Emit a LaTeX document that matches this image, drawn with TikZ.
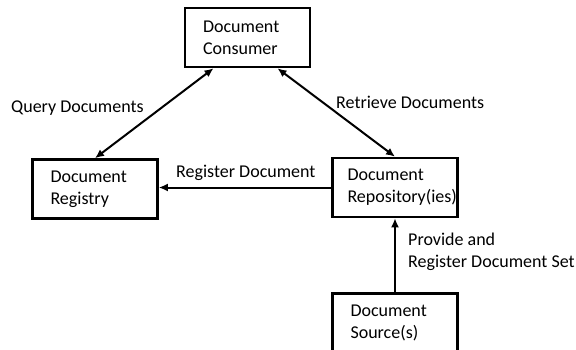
\documentclass[tikz,border=0pt]{standalone}
\usepackage{fontspec}
\setmainfont{Carlito}
\usetikzlibrary{arrows.meta,calc}
\begin{document}
\begin{tikzpicture}[x=1pt,y=-1pt,
  box/.style={draw, line width=2.6pt, minimum width=125pt, minimum height=59pt,
    inner xsep=18pt, text width=89pt, align=left, font=\fontsize{18}{22}\selectfont},
  lbl/.style={font=\fontsize{18}{22}\selectfont, align=left, inner sep=0pt, anchor=west},
  conn/.style={line width=2pt, -{Latex[length=9pt,width=8pt]}},
  bconn/.style={line width=2pt, {Latex[length=9pt,width=8pt]}-{Latex[length=9pt,width=8pt]}}]
\useasboundingbox (0,0) rectangle (576,349);
\clip (0,0) rectangle (576,349);
\node[box] (cons) at (247.5,37.5) {Document\\Consumer};
\node[box] (reg) at (95,189) {Document\\Registry};
\node[box, inner xsep=15pt, text width=95pt] (rep) at (395,187.5) {Document\\Repository(ies)};
\node[box] (src) at (395,323) {Document\\Source(s)};
\draw[bconn] ($(cons.south)+(-34,0)$) -- (reg.north);
\draw[bconn] ($(cons.south)+(30,0)$) -- (rep.north);
\draw[conn] (rep.west) -- (rep.west -| reg.east);
\draw[conn] (src.north) -- (rep.south);
\node[lbl] (qd) at (11,108) {Query Documents};
\node[lbl] (rd) at (336,102) {Retrieve Documents};
\node[lbl] (rgd) at (176,173) {Register Document};
\node[lbl] (prd) at (408,252) {Provide and\\Register Document Set};
\end{tikzpicture}
\end{document}
